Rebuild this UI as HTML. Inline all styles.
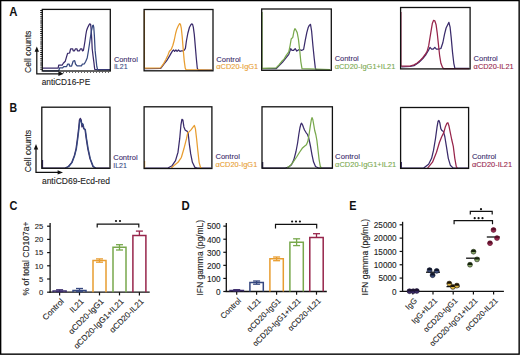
<!DOCTYPE html>
<html><head><meta charset="utf-8"><style>
html,body{margin:0;padding:0;background:#fff;}
svg{display:block;font-family:"Liberation Sans", sans-serif;}
</style></head><body>
<svg width="520" height="355" viewBox="0 0 520 355">
<rect width="520" height="355" fill="#fff"/>
<line x1="41.2" y1="10" x2="41.2" y2="71" stroke="#111" stroke-width="2.0" stroke-dasharray="0.9,1.2"/>
<polyline points="42.8,68.0 58.2,68.0 58.7,65.2 62.1,65.2 63.3,63.2 65.3,61.2 66.6,56.7 67.6,53.4 69.6,53.0 70.6,48.8 72.6,48.8 73.2,50.8 74.5,50.8 75.5,48.8 76.9,48.8 77.5,50.8 79.5,50.8 80.5,48.8 81.8,48.8 82.4,50.8 83.4,50.4 84.2,46.0 85.0,41.0 85.8,35.0 86.6,30.5 87.6,27.7 88.9,25.1 89.7,23.9 90.6,24.3 91.0,27.7 91.4,33.6 91.8,40.3 92.2,48.8 93.0,55.5 93.9,62.3 94.7,69.3 110.0,69.5" fill="none" stroke="#3a2b6b" stroke-width="1.25" stroke-linejoin="round"/>
<polyline points="42.8,70.9 58.7,70.9 59.7,67.8 62.7,67.8 63.7,66.6 66.6,66.6 67.6,64.2 69.2,64.2 69.6,66.0 71.6,66.0 73.2,61.0 74.7,60.7 75.5,64.0 77.1,65.8 81.4,65.8 82.4,64.2 84.4,63.8 85.8,61.2 87.2,58.0 88.4,51.0 89.6,43.0 90.6,36.0 91.6,30.0 92.6,25.8 93.3,25.1 93.8,27.7 94.4,36.1 95.1,50.4 96.0,58.9 96.8,66.5 97.7,69.9 110.0,70.0" fill="none" stroke="#36487f" stroke-width="1.25" stroke-linejoin="round"/>
<line x1="60" y1="72.4" x2="110" y2="72.4" stroke="#444" stroke-width="1.0" stroke-dasharray="0.9,2.1"/>
<polyline points="145.0,68.6 160.7,68.4 163.7,64.4 166.7,60.7 169.6,55.9 171.6,52.4 172.6,50.8 173.6,50.0 174.6,51.4 175.9,50.0 177.1,51.4 178.5,50.0 179.9,51.4 181.5,50.8 183.4,50.8 184.4,50.0 185.4,48.4 186.4,41.0 187.8,33.5 189.4,27.5 190.7,25.0 191.7,23.8 192.5,24.2 193.3,27.2 194.3,34.6 195.3,46.4 196.3,58.3 197.3,68.2 198.2,70.1 212.0,70.2" fill="none" stroke="#3a2b6b" stroke-width="1.25" stroke-linejoin="round"/>
<polyline points="144.4,10.5 144.4,68.2 160.4,68.0 162.0,65.8 163.8,63.4 166.0,59.2 168.0,54.9 169.4,51.2 171.2,49.5 172.8,45.5 174.3,40.0 175.6,33.5 176.8,29.2 178.2,26.0 179.6,23.6 180.4,24.2 181.3,28.2 182.2,36.6 183.2,49.3 184.2,60.6 185.2,68.0 186.0,69.7 212.0,70.0" fill="none" stroke="#e89d30" stroke-width="1.25" stroke-linejoin="round"/>
<polyline points="262.5,68.7 276.0,68.7 279.2,65.5 282.4,62.3 285.6,58.3 288.8,54.3 290.7,48.7 292.0,50.3 293.6,50.3 295.2,48.7 296.8,51.1 299.2,49.5 301.6,50.3 303.6,49.5 305.2,40.6 306.8,32.6 308.1,27.8 309.3,25.4 310.5,24.3 311.6,31.0 312.9,45.5 314.2,58.3 315.3,67.9 316.1,69.8 330.0,69.8" fill="none" stroke="#3a2b6b" stroke-width="1.25" stroke-linejoin="round"/>
<polyline points="262.0,12.0 262.0,68.3 276.0,67.9 279.2,64.7 281.6,61.5 284.0,59.1 286.4,55.1 288.8,51.9 290.1,45.5 291.2,39.0 292.8,37.4 294.0,31.0 294.9,28.6 296.0,30.2 297.2,32.6 298.4,39.0 299.7,50.3 300.8,61.5 302.0,68.7 330.0,69.5" fill="none" stroke="#78a84c" stroke-width="1.25" stroke-linejoin="round"/>
<polyline points="401.5,67.0 410.0,66.5 414.0,65.7 418.8,62.5 422.8,58.5 426.0,54.5 428.4,50.5 430.0,47.3 431.6,49.2 433.2,49.2 434.8,47.3 436.4,49.2 438.8,49.2 440.9,48.5 442.9,42.5 444.5,34.4 446.1,28.0 447.7,24.8 448.9,22.4 450.1,27.2 451.2,37.6 452.5,52.1 453.8,63.3 454.9,68.3 469.0,68.3" fill="none" stroke="#3a2b6b" stroke-width="1.25" stroke-linejoin="round"/>
<polyline points="400.9,12.0 400.9,66.0 410.0,66.0 414.0,64.9 417.2,63.0 420.4,60.1 422.8,57.7 425.2,54.5 427.1,51.3 428.7,45.7 430.0,37.6 431.3,29.6 432.4,23.2 433.6,20.3 434.8,20.8 436.1,24.8 437.2,32.8 438.4,44.1 439.6,55.3 440.9,63.3 442.5,67.3 443.5,68.5 469.0,68.5" fill="none" stroke="#97254b" stroke-width="1.25" stroke-linejoin="round"/>
<polyline points="42.5,160.0 42.5,167.8 65.1,168.0 68.4,166.5 71.8,162.3 74.3,155.6 76.0,148.8 77.4,138.7 78.6,128.6 79.4,120.1 80.3,118.4 81.3,120.1 81.9,126.9 82.6,124.0 83.6,128.6 85.0,129.4 86.2,138.7 87.8,148.8 90.0,158.9 92.9,166.5 95.4,168.0 109.0,168.0" fill="none" stroke="#3a2b6b" stroke-width="1.25" stroke-linejoin="round"/>
<polyline points="65.5,168.0 68.8,166.5 72.2,162.3 74.7,155.6 76.4,148.8 77.8,138.7 79.0,128.6 79.8,121.0 80.6,120.0 81.3,122.0 81.9,125.0 82.5,123.5 83.2,124.5 84.0,128.6 85.4,129.8 86.6,138.7 88.2,148.8 90.4,158.9 93.3,166.5 95.8,168.0" fill="none" stroke="#36487f" stroke-width="1.25" stroke-linejoin="round"/>
<polyline points="145.0,168.0 167.9,168.0 172.1,165.7 175.5,160.6 178.0,152.2 179.7,138.7 180.9,125.2 181.9,119.3 182.9,120.1 183.9,126.9 185.3,130.3 187.0,131.1 188.2,133.6 189.3,143.8 190.7,153.9 192.4,162.3 194.9,167.4 197.4,168.0 211.0,168.0" fill="none" stroke="#3a2b6b" stroke-width="1.25" stroke-linejoin="round"/>
<polyline points="171.3,168.0 174.7,164.9 178.0,162.3 181.4,157.3 183.9,148.8 186.5,138.7 187.7,132.8 189.0,131.9 191.0,129.9 193.2,126.9 194.4,125.5 195.4,128.6 196.6,138.7 197.8,150.5 199.1,162.3 200.5,167.4 201.7,168.0" fill="none" stroke="#e89d30" stroke-width="1.25" stroke-linejoin="round"/>
<polyline points="144.7,161.0 144.7,168.0" fill="none" stroke="#e89d30" stroke-width="1.0" stroke-linejoin="round"/>
<polyline points="262.7,162.0 262.7,168.0" fill="none" stroke="#333" stroke-width="1.0" stroke-linejoin="round"/>
<polyline points="262.5,162.0 262.5,168.0 285.3,168.0 289.0,166.8 291.5,164.8 293.8,159.8 296.0,151.5 297.6,143.0 298.8,134.5 299.9,128.0 300.8,124.3 301.5,123.2 302.5,124.8 303.5,127.5 304.5,130.0 305.9,132.3 307.5,134.5 308.6,137.5 309.6,142.0 310.6,146.8 312.0,154.8 313.5,161.8 315.5,166.5 318.5,168.0 332.0,168.0" fill="none" stroke="#3a2b6b" stroke-width="1.25" stroke-linejoin="round"/>
<polyline points="287.0,168.0 290.0,165.8 292.6,162.8 296.6,157.0 299.4,152.5 302.2,148.3 304.5,146.2 306.4,144.8 307.8,141.5 309.0,135.0 310.3,126.0 311.3,120.0 312.0,117.6 312.8,119.5 313.7,124.5 314.7,130.5 315.8,134.5 316.9,140.5 318.0,150.0 319.1,159.5 320.3,166.3 321.5,168.2" fill="none" stroke="#78a84c" stroke-width="1.25" stroke-linejoin="round"/>
<polyline points="401.3,162.0 401.3,168.0 423.7,168.1 428.6,164.2 431.6,158.3 433.5,150.4 435.5,138.5 437.1,126.7 438.1,121.2 438.9,120.4 439.8,122.7 440.8,128.7 442.0,130.6 443.4,131.6 444.8,136.5 446.4,146.4 448.3,158.3 450.3,165.2 453.3,168.1 468.0,168.0" fill="none" stroke="#3a2b6b" stroke-width="1.25" stroke-linejoin="round"/>
<polyline points="427.6,168.1 432.5,162.2 436.5,152.3 439.4,142.5 441.8,136.5 443.8,132.6 445.4,126.7 446.9,123.3 447.9,122.7 448.9,125.7 450.3,132.6 451.7,139.5 453.3,146.4 454.8,158.3 456.2,166.2 457.2,168.1" fill="none" stroke="#97254b" stroke-width="1.25" stroke-linejoin="round"/>
<rect x="42.3" y="9.4" width="68.0" height="61.6" fill="none" stroke="#111" stroke-width="1.3"/>
<rect x="144.1" y="9.5" width="68.9" height="61.3" fill="none" stroke="#111" stroke-width="1.3"/>
<rect x="261.7" y="9.0" width="69.6" height="61.3" fill="none" stroke="#111" stroke-width="1.3"/>
<rect x="400.6" y="7.5" width="69.5" height="61.4" fill="none" stroke="#111" stroke-width="1.3"/>
<rect x="41.8" y="107.2" width="68.2" height="61.1" fill="none" stroke="#111" stroke-width="1.3"/>
<rect x="144.1" y="106.8" width="67.8" height="61.7" fill="none" stroke="#111" stroke-width="1.3"/>
<rect x="262.0" y="106.8" width="70.4" height="61.4" fill="none" stroke="#111" stroke-width="1.3"/>
<rect x="400.6" y="107.5" width="68.0" height="60.9" fill="none" stroke="#111" stroke-width="1.3"/>
<polyline points="36.8,50.4 36.8,73.8 59.8,73.8" fill="none" stroke="#111" stroke-width="1.25"/>
<polygon points="34.599999999999994,51.8 36.8,46.4 39.0,51.8" fill="#111"/>
<polygon points="58.4,71.6 63.8,73.8 58.4,76.0" fill="#111"/>
<polyline points="36.0,148.1 36.0,172.4 59.0,172.4" fill="none" stroke="#111" stroke-width="1.25"/>
<polygon points="33.8,149.5 36.0,144.1 38.2,149.5" fill="#111"/>
<polygon points="57.6,170.20000000000002 63.0,172.4 57.6,174.6" fill="#111"/>
<text transform="translate(31.0,72.9) rotate(-90)" font-size="8.5" fill="#222" stroke="#222" stroke-width="0.1" textLength="42.3" lengthAdjust="spacingAndGlyphs">Cell counts</text>
<text transform="translate(30.8,172.2) rotate(-90)" font-size="8.5" fill="#222" stroke="#222" stroke-width="0.1" textLength="42.3" lengthAdjust="spacingAndGlyphs">Cell counts</text>
<text x="41.7" y="84.9" font-size="8.3" fill="#222" stroke="#222" stroke-width="0.1" textLength="48.5" lengthAdjust="spacingAndGlyphs">antiCD16-PE</text>
<text x="41.9" y="183.5" font-size="8.5" fill="#222" stroke="#222" stroke-width="0.1" textLength="68.2" lengthAdjust="spacingAndGlyphs">antiCD69-Ecd-red</text>
<text x="113.9" y="61.5" font-size="7.8" fill="#3a2b6b" stroke="#3a2b6b" stroke-width="0.1" textLength="23.9" lengthAdjust="spacingAndGlyphs">Control</text>
<text x="113.9" y="69.1" font-size="7.8" fill="#36487f" stroke="#36487f" stroke-width="0.1" textLength="13.7" lengthAdjust="spacingAndGlyphs">IL21</text>
<text x="216.3" y="61.6" font-size="7.8" fill="#3a2b6b" stroke="#3a2b6b" stroke-width="0.1" textLength="24.5" lengthAdjust="spacingAndGlyphs">Control</text>
<text x="216.3" y="69.2" font-size="7.8" fill="#e89d30" stroke="#e89d30" stroke-width="0.1" textLength="41.9" lengthAdjust="spacingAndGlyphs">αCD20-IgG1</text>
<text x="334.7" y="61.4" font-size="7.8" fill="#3a2b6b" stroke="#3a2b6b" stroke-width="0.1" textLength="24.0" lengthAdjust="spacingAndGlyphs">Control</text>
<text x="334.7" y="69.0" font-size="7.8" fill="#78a84c" stroke="#78a84c" stroke-width="0.1" textLength="60.6" lengthAdjust="spacingAndGlyphs">αCD20-IgG1+IL21</text>
<text x="473.6" y="60.9" font-size="7.8" fill="#3a2b6b" stroke="#3a2b6b" stroke-width="0.1" textLength="24.2" lengthAdjust="spacingAndGlyphs">Control</text>
<text x="473.6" y="68.5" font-size="7.8" fill="#97254b" stroke="#97254b" stroke-width="0.1" textLength="40.1" lengthAdjust="spacingAndGlyphs">αCD20-IL21</text>
<text x="113.2" y="160.1" font-size="7.8" fill="#3a2b6b" stroke="#3a2b6b" stroke-width="0.1" textLength="24.4" lengthAdjust="spacingAndGlyphs">Control</text>
<text x="113.2" y="167.7" font-size="7.8" fill="#36487f" stroke="#36487f" stroke-width="0.1" textLength="13.7" lengthAdjust="spacingAndGlyphs">IL21</text>
<text x="215.4" y="159.2" font-size="7.8" fill="#3a2b6b" stroke="#3a2b6b" stroke-width="0.1" textLength="24.5" lengthAdjust="spacingAndGlyphs">Control</text>
<text x="215.4" y="166.8" font-size="7.8" fill="#e89d30" stroke="#e89d30" stroke-width="0.1" textLength="41.9" lengthAdjust="spacingAndGlyphs">αCD20-IgG1</text>
<text x="335.1" y="159.1" font-size="7.8" fill="#3a2b6b" stroke="#3a2b6b" stroke-width="0.1" textLength="24.8" lengthAdjust="spacingAndGlyphs">Control</text>
<text x="335.1" y="166.7" font-size="7.8" fill="#78a84c" stroke="#78a84c" stroke-width="0.1" textLength="61.2" lengthAdjust="spacingAndGlyphs">αCD20-IgG1+IL21</text>
<text x="471.9" y="159.4" font-size="7.8" fill="#3a2b6b" stroke="#3a2b6b" stroke-width="0.1" textLength="24.4" lengthAdjust="spacingAndGlyphs">Control</text>
<text x="471.9" y="167.0" font-size="7.8" fill="#97254b" stroke="#97254b" stroke-width="0.1" textLength="40.2" lengthAdjust="spacingAndGlyphs">αCD20-IL21</text>
<line x1="50.1" y1="223.0" x2="50.1" y2="292.8" stroke="#111" stroke-width="1.3"/>
<line x1="49.5" y1="292.2" x2="149.7" y2="292.2" stroke="#111" stroke-width="1.3"/>
<line x1="47.1" y1="292.2" x2="50.1" y2="292.2" stroke="#111" stroke-width="1.2"/>
<text x="43.3" y="294.9" font-size="7.6" fill="#222" stroke="#222" stroke-width="0.1" text-anchor="end">0</text>
<line x1="47.1" y1="279.0" x2="50.1" y2="279.0" stroke="#111" stroke-width="1.2"/>
<text x="43.3" y="281.7" font-size="7.6" fill="#222" stroke="#222" stroke-width="0.1" text-anchor="end">5</text>
<line x1="47.1" y1="265.8" x2="50.1" y2="265.8" stroke="#111" stroke-width="1.2"/>
<text x="43.3" y="268.5" font-size="7.6" fill="#222" stroke="#222" stroke-width="0.1" text-anchor="end">10</text>
<line x1="47.1" y1="252.6" x2="50.1" y2="252.6" stroke="#111" stroke-width="1.2"/>
<text x="43.3" y="255.3" font-size="7.6" fill="#222" stroke="#222" stroke-width="0.1" text-anchor="end">15</text>
<line x1="47.1" y1="239.39999999999998" x2="50.1" y2="239.39999999999998" stroke="#111" stroke-width="1.2"/>
<text x="43.3" y="242.1" font-size="7.6" fill="#222" stroke="#222" stroke-width="0.1" text-anchor="end">20</text>
<line x1="47.1" y1="226.2" x2="50.1" y2="226.2" stroke="#111" stroke-width="1.2"/>
<text x="43.3" y="228.9" font-size="7.6" fill="#222" stroke="#222" stroke-width="0.1" text-anchor="end">25</text>
<line x1="59.6" y1="292.2" x2="59.6" y2="295.4" stroke="#111" stroke-width="1.2"/>
<line x1="79.5" y1="292.2" x2="79.5" y2="295.4" stroke="#111" stroke-width="1.2"/>
<line x1="99.5" y1="292.2" x2="99.5" y2="295.4" stroke="#111" stroke-width="1.2"/>
<line x1="119.5" y1="292.2" x2="119.5" y2="295.4" stroke="#111" stroke-width="1.2"/>
<line x1="139.4" y1="292.2" x2="139.4" y2="295.4" stroke="#111" stroke-width="1.2"/>
<text transform="translate(64.4,302.0) rotate(-45)" font-size="8.2" fill="#222" stroke="#222" stroke-width="0.1" text-anchor="end">Control</text>
<text transform="translate(84.3,302.0) rotate(-45)" font-size="8.2" fill="#222" stroke="#222" stroke-width="0.1" text-anchor="end">IL21</text>
<text transform="translate(104.3,302.0) rotate(-45)" font-size="8.2" fill="#222" stroke="#222" stroke-width="0.1" text-anchor="end">αCD20-IgG1</text>
<text transform="translate(124.3,302.0) rotate(-45)" font-size="8.2" fill="#222" stroke="#222" stroke-width="0.1" text-anchor="end">αCD20-IgG1+IL21</text>
<text transform="translate(144.2,302.0) rotate(-45)" font-size="8.2" fill="#222" stroke="#222" stroke-width="0.1" text-anchor="end">αCD20-IL21</text>
<text transform="translate(28.9,295.5) rotate(-90)" font-size="8.4" fill="#222" stroke="#222" stroke-width="0.1" textLength="74.0" lengthAdjust="spacingAndGlyphs">% of total CD107a+</text>
<polyline points="53.1,292.2 53.1,290.9 66.1,290.9 66.1,292.2" fill="none" stroke="#3a2b6b" stroke-width="1.5"/>
<line x1="59.6" y1="291.7" x2="59.6" y2="289.8" stroke="#3a2b6b" stroke-width="1.3"/>
<line x1="56.1" y1="289.8" x2="63.1" y2="289.8" stroke="#3a2b6b" stroke-width="1.3"/>
<line x1="56.1" y1="291.7" x2="63.1" y2="291.7" stroke="#3a2b6b" stroke-width="1.3"/>
<polyline points="73.0,292.2 73.0,290.4 86.0,290.4 86.0,292.2" fill="none" stroke="#36487f" stroke-width="1.5"/>
<line x1="79.5" y1="291.7" x2="79.5" y2="288.5" stroke="#36487f" stroke-width="1.3"/>
<line x1="76.0" y1="288.5" x2="83.0" y2="288.5" stroke="#36487f" stroke-width="1.3"/>
<line x1="76.0" y1="291.7" x2="83.0" y2="291.7" stroke="#36487f" stroke-width="1.3"/>
<polyline points="93.0,292.2 93.0,260.5 106.0,260.5 106.0,292.2" fill="none" stroke="#e89d30" stroke-width="1.5"/>
<line x1="99.5" y1="262.2" x2="99.5" y2="258.9" stroke="#e89d30" stroke-width="1.3"/>
<line x1="96.0" y1="258.9" x2="103.0" y2="258.9" stroke="#e89d30" stroke-width="1.3"/>
<line x1="96.0" y1="262.2" x2="103.0" y2="262.2" stroke="#e89d30" stroke-width="1.3"/>
<polyline points="113.0,292.2 113.0,247.3 126.0,247.3 126.0,292.2" fill="none" stroke="#78a84c" stroke-width="1.5"/>
<line x1="119.5" y1="250.0" x2="119.5" y2="244.7" stroke="#78a84c" stroke-width="1.3"/>
<line x1="116.0" y1="244.7" x2="123.0" y2="244.7" stroke="#78a84c" stroke-width="1.3"/>
<line x1="116.0" y1="250.0" x2="123.0" y2="250.0" stroke="#78a84c" stroke-width="1.3"/>
<polyline points="132.9,292.2 132.9,235.4 145.9,235.4 145.9,292.2" fill="none" stroke="#97254b" stroke-width="1.5"/>
<line x1="139.4" y1="235.4" x2="139.4" y2="231.1" stroke="#97254b" stroke-width="1.3"/>
<line x1="135.9" y1="231.1" x2="142.9" y2="231.1" stroke="#97254b" stroke-width="1.3"/>
<polyline points="97.2,227.5 97.2,224.1 138.8,224.1 138.8,227.5" fill="none" stroke="#111" stroke-width="1.2"/>
<circle cx="116.0" cy="221.0" r="1.1" fill="#111"/>
<circle cx="120.0" cy="221.0" r="1.1" fill="#111"/>
<line x1="226.3" y1="223.0" x2="226.3" y2="292.1" stroke="#111" stroke-width="1.3"/>
<line x1="225.70000000000002" y1="291.5" x2="326.8" y2="291.5" stroke="#111" stroke-width="1.3"/>
<line x1="223.3" y1="291.5" x2="226.3" y2="291.5" stroke="#111" stroke-width="1.2"/>
<text x="220.6" y="294.8" font-size="8.2" fill="#222" stroke="#222" stroke-width="0.1" text-anchor="end">0</text>
<line x1="223.3" y1="278.43" x2="226.3" y2="278.43" stroke="#111" stroke-width="1.2"/>
<text x="220.6" y="281.7" font-size="8.2" fill="#222" stroke="#222" stroke-width="0.1" text-anchor="end">100</text>
<line x1="223.3" y1="265.36" x2="226.3" y2="265.36" stroke="#111" stroke-width="1.2"/>
<text x="220.6" y="268.7" font-size="8.2" fill="#222" stroke="#222" stroke-width="0.1" text-anchor="end">200</text>
<line x1="223.3" y1="252.29" x2="226.3" y2="252.29" stroke="#111" stroke-width="1.2"/>
<text x="220.6" y="255.6" font-size="8.2" fill="#222" stroke="#222" stroke-width="0.1" text-anchor="end">300</text>
<line x1="223.3" y1="239.22" x2="226.3" y2="239.22" stroke="#111" stroke-width="1.2"/>
<text x="220.6" y="242.5" font-size="8.2" fill="#222" stroke="#222" stroke-width="0.1" text-anchor="end">400</text>
<line x1="223.3" y1="226.14999999999998" x2="226.3" y2="226.14999999999998" stroke="#111" stroke-width="1.2"/>
<text x="220.6" y="229.4" font-size="8.2" fill="#222" stroke="#222" stroke-width="0.1" text-anchor="end">500</text>
<line x1="236.7" y1="291.5" x2="236.7" y2="294.7" stroke="#111" stroke-width="1.2"/>
<line x1="256.6" y1="291.5" x2="256.6" y2="294.7" stroke="#111" stroke-width="1.2"/>
<line x1="276.6" y1="291.5" x2="276.6" y2="294.7" stroke="#111" stroke-width="1.2"/>
<line x1="296.6" y1="291.5" x2="296.6" y2="294.7" stroke="#111" stroke-width="1.2"/>
<line x1="316.5" y1="291.5" x2="316.5" y2="294.7" stroke="#111" stroke-width="1.2"/>
<text transform="translate(241.5,301.3) rotate(-45)" font-size="7.9" fill="#222" stroke="#222" stroke-width="0.1" text-anchor="end">Control</text>
<text transform="translate(261.4,301.3) rotate(-45)" font-size="7.9" fill="#222" stroke="#222" stroke-width="0.1" text-anchor="end">IL21</text>
<text transform="translate(281.4,301.3) rotate(-45)" font-size="7.9" fill="#222" stroke="#222" stroke-width="0.1" text-anchor="end">αCD20-IgG1</text>
<text transform="translate(301.4,301.3) rotate(-45)" font-size="7.9" fill="#222" stroke="#222" stroke-width="0.1" text-anchor="end">αCD20-IgG1+IL21</text>
<text transform="translate(321.3,301.3) rotate(-45)" font-size="7.9" fill="#222" stroke="#222" stroke-width="0.1" text-anchor="end">αCD20-IL21</text>
<text transform="translate(203.0,295.5) rotate(-90)" font-size="8.4" fill="#222" stroke="#222" stroke-width="0.1" textLength="75.5" lengthAdjust="spacingAndGlyphs">IFN gamma (pg/mL)</text>
<polyline points="230.0,291.5 230.0,290.5 243.4,290.5 243.4,291.5" fill="none" stroke="#3a2b6b" stroke-width="1.5"/>
<line x1="236.7" y1="291.0" x2="236.7" y2="289.7" stroke="#3a2b6b" stroke-width="1.3"/>
<line x1="233.2" y1="289.7" x2="240.2" y2="289.7" stroke="#3a2b6b" stroke-width="1.3"/>
<line x1="233.2" y1="291.0" x2="240.2" y2="291.0" stroke="#3a2b6b" stroke-width="1.3"/>
<polyline points="249.9,291.5 249.9,282.6 263.3,282.6 263.3,291.5" fill="none" stroke="#36487f" stroke-width="1.5"/>
<line x1="256.6" y1="284.2" x2="256.6" y2="281.0" stroke="#36487f" stroke-width="1.3"/>
<line x1="253.10000000000002" y1="281.0" x2="260.1" y2="281.0" stroke="#36487f" stroke-width="1.3"/>
<line x1="253.10000000000002" y1="284.2" x2="260.1" y2="284.2" stroke="#36487f" stroke-width="1.3"/>
<polyline points="269.9,291.5 269.9,258.8 283.3,258.8 283.3,291.5" fill="none" stroke="#e89d30" stroke-width="1.5"/>
<line x1="276.6" y1="260.7" x2="276.6" y2="257.0" stroke="#e89d30" stroke-width="1.3"/>
<line x1="273.1" y1="257.0" x2="280.1" y2="257.0" stroke="#e89d30" stroke-width="1.3"/>
<line x1="273.1" y1="260.7" x2="280.1" y2="260.7" stroke="#e89d30" stroke-width="1.3"/>
<polyline points="289.9,291.5 289.9,242.2 303.3,242.2 303.3,291.5" fill="none" stroke="#78a84c" stroke-width="1.5"/>
<line x1="296.6" y1="245.6" x2="296.6" y2="238.8" stroke="#78a84c" stroke-width="1.3"/>
<line x1="293.1" y1="238.8" x2="300.1" y2="238.8" stroke="#78a84c" stroke-width="1.3"/>
<line x1="293.1" y1="245.6" x2="300.1" y2="245.6" stroke="#78a84c" stroke-width="1.3"/>
<polyline points="309.8,291.5 309.8,237.4 323.2,237.4 323.2,291.5" fill="none" stroke="#97254b" stroke-width="1.5"/>
<line x1="316.5" y1="237.4" x2="316.5" y2="233.7" stroke="#97254b" stroke-width="1.3"/>
<line x1="313.0" y1="233.7" x2="320.0" y2="233.7" stroke="#97254b" stroke-width="1.3"/>
<polyline points="275.5,228.4 275.5,224.4 316.7,224.4 316.7,228.4" fill="none" stroke="#111" stroke-width="1.2"/>
<circle cx="292.1" cy="221.5" r="1.1" fill="#111"/>
<circle cx="296.0" cy="221.5" r="1.1" fill="#111"/>
<circle cx="299.9" cy="221.5" r="1.1" fill="#111"/>
<line x1="402.6" y1="221.8" x2="402.6" y2="292.0" stroke="#111" stroke-width="1.3"/>
<line x1="402.0" y1="291.4" x2="503.9" y2="291.4" stroke="#111" stroke-width="1.3"/>
<line x1="399.6" y1="291.4" x2="402.6" y2="291.4" stroke="#111" stroke-width="1.2"/>
<text x="396.6" y="294.7" font-size="8.2" fill="#222" stroke="#222" stroke-width="0.1" text-anchor="end">0</text>
<line x1="399.6" y1="278.08" x2="402.6" y2="278.08" stroke="#111" stroke-width="1.2"/>
<text x="396.6" y="281.4" font-size="8.2" fill="#222" stroke="#222" stroke-width="0.1" text-anchor="end">5000</text>
<line x1="399.6" y1="264.76" x2="402.6" y2="264.76" stroke="#111" stroke-width="1.2"/>
<text x="396.6" y="268.1" font-size="8.2" fill="#222" stroke="#222" stroke-width="0.1" text-anchor="end">10000</text>
<line x1="399.6" y1="251.43999999999997" x2="402.6" y2="251.43999999999997" stroke="#111" stroke-width="1.2"/>
<text x="396.6" y="254.7" font-size="8.2" fill="#222" stroke="#222" stroke-width="0.1" text-anchor="end">15000</text>
<line x1="399.6" y1="238.11999999999998" x2="402.6" y2="238.11999999999998" stroke="#111" stroke-width="1.2"/>
<text x="396.6" y="241.4" font-size="8.2" fill="#222" stroke="#222" stroke-width="0.1" text-anchor="end">20000</text>
<line x1="399.6" y1="224.79999999999995" x2="402.6" y2="224.79999999999995" stroke="#111" stroke-width="1.2"/>
<text x="396.6" y="228.1" font-size="8.2" fill="#222" stroke="#222" stroke-width="0.1" text-anchor="end">25000</text>
<line x1="412.8" y1="291.4" x2="412.8" y2="294.59999999999997" stroke="#111" stroke-width="1.2"/>
<line x1="433.0" y1="291.4" x2="433.0" y2="294.59999999999997" stroke="#111" stroke-width="1.2"/>
<line x1="453.2" y1="291.4" x2="453.2" y2="294.59999999999997" stroke="#111" stroke-width="1.2"/>
<line x1="473.4" y1="291.4" x2="473.4" y2="294.59999999999997" stroke="#111" stroke-width="1.2"/>
<line x1="493.6" y1="291.4" x2="493.6" y2="294.59999999999997" stroke="#111" stroke-width="1.2"/>
<text transform="translate(417.6,301.2) rotate(-45)" font-size="7.9" fill="#222" stroke="#222" stroke-width="0.1" text-anchor="end">IgG</text>
<text transform="translate(437.8,301.2) rotate(-45)" font-size="7.9" fill="#222" stroke="#222" stroke-width="0.1" text-anchor="end">IgG+IL21</text>
<text transform="translate(458.0,301.2) rotate(-45)" font-size="7.9" fill="#222" stroke="#222" stroke-width="0.1" text-anchor="end">αCD20-IgG1</text>
<text transform="translate(478.2,301.2) rotate(-45)" font-size="7.9" fill="#222" stroke="#222" stroke-width="0.1" text-anchor="end">αCD20-IgG1+IL21</text>
<text transform="translate(498.4,301.2) rotate(-45)" font-size="7.9" fill="#222" stroke="#222" stroke-width="0.1" text-anchor="end">αCD20-IL21</text>
<text transform="translate(368.2,295.5) rotate(-90)" font-size="8.4" fill="#222" stroke="#222" stroke-width="0.1" textLength="76.5" lengthAdjust="spacingAndGlyphs">IFN gamma (pg/mL)</text>
<circle cx="409.5" cy="291.2" r="2.45" fill="#3a2b6b" stroke="#1e1430" stroke-width="0.6"/>
<path d="M407.05,291.40 A2.45,2.45 0 0 1 411.95,291.40 Z" fill="#1e1430"/>
<circle cx="413.2" cy="291.2" r="2.45" fill="#3a2b6b" stroke="#1e1430" stroke-width="0.6"/>
<path d="M410.75,291.40 A2.45,2.45 0 0 1 415.65,291.40 Z" fill="#1e1430"/>
<circle cx="416.8" cy="291.0" r="2.45" fill="#3a2b6b" stroke="#1e1430" stroke-width="0.6"/>
<path d="M414.35,291.20 A2.45,2.45 0 0 1 419.25,291.20 Z" fill="#1e1430"/>
<line x1="426.0" y1="272.2" x2="440.0" y2="272.2" stroke="#111" stroke-width="1.3"/>
<circle cx="429.6" cy="270.1" r="2.45" fill="#3a4a7a" stroke="#101528" stroke-width="0.6"/>
<path d="M427.15,270.30 A2.45,2.45 0 0 1 432.05,270.30 Z" fill="#101528"/>
<circle cx="436.7" cy="270.9" r="2.45" fill="#3a4a7a" stroke="#101528" stroke-width="0.6"/>
<path d="M434.25,271.10 A2.45,2.45 0 0 1 439.15,271.10 Z" fill="#101528"/>
<circle cx="432.6" cy="275.2" r="2.45" fill="#3a4a7a" stroke="#101528" stroke-width="0.6"/>
<path d="M430.15,275.40 A2.45,2.45 0 0 1 435.05,275.40 Z" fill="#101528"/>
<line x1="446.5" y1="286.6" x2="459.5" y2="286.6" stroke="#111" stroke-width="1.3"/>
<circle cx="449.3" cy="283.6" r="2.45" fill="#e0b840" stroke="#1a1208" stroke-width="0.6"/>
<path d="M446.85,283.80 A2.45,2.45 0 0 1 451.75,283.80 Z" fill="#1a1208"/>
<circle cx="452.9" cy="286.9" r="2.45" fill="#e0b840" stroke="#1a1208" stroke-width="0.6"/>
<path d="M450.45,287.10 A2.45,2.45 0 0 1 455.35,287.10 Z" fill="#1a1208"/>
<circle cx="456.9" cy="285.6" r="2.45" fill="#e0b840" stroke="#1a1208" stroke-width="0.6"/>
<path d="M454.45,285.80 A2.45,2.45 0 0 1 459.35,285.80 Z" fill="#1a1208"/>
<line x1="466.1" y1="258.2" x2="479.5" y2="258.2" stroke="#111" stroke-width="1.3"/>
<circle cx="473.5" cy="251.7" r="2.45" fill="#8aa86a" stroke="#15220c" stroke-width="0.6"/>
<path d="M471.05,251.90 A2.45,2.45 0 0 1 475.95,251.90 Z" fill="#15220c"/>
<circle cx="477.0" cy="259.4" r="2.45" fill="#8aa86a" stroke="#15220c" stroke-width="0.6"/>
<path d="M474.55,259.60 A2.45,2.45 0 0 1 479.45,259.60 Z" fill="#15220c"/>
<circle cx="470.0" cy="264.7" r="2.45" fill="#8aa86a" stroke="#15220c" stroke-width="0.6"/>
<path d="M467.55,264.90 A2.45,2.45 0 0 1 472.45,264.90 Z" fill="#15220c"/>
<line x1="486.8" y1="237.0" x2="499.8" y2="237.0" stroke="#111" stroke-width="1.3"/>
<circle cx="493.5" cy="230.0" r="2.45" fill="#9a2a50" stroke="#5a0f28" stroke-width="0.6"/>
<path d="M491.05,230.20 A2.45,2.45 0 0 1 495.95,230.20 Z" fill="#5a0f28"/>
<circle cx="497.0" cy="238.1" r="2.45" fill="#9a2a50" stroke="#5a0f28" stroke-width="0.6"/>
<path d="M494.55,238.30 A2.45,2.45 0 0 1 499.45,238.30 Z" fill="#5a0f28"/>
<circle cx="490.0" cy="243.2" r="2.45" fill="#9a2a50" stroke="#5a0f28" stroke-width="0.6"/>
<path d="M487.55,243.40 A2.45,2.45 0 0 1 492.45,243.40 Z" fill="#5a0f28"/>
<polyline points="470.3,214.5 470.3,211.4 492.2,211.4 492.2,214.5" fill="none" stroke="#111" stroke-width="1.2"/>
<circle cx="481.0" cy="209.2" r="1.1" fill="#111"/>
<polyline points="454.1,224.2 454.1,220.6 492.5,220.6 492.5,224.2" fill="none" stroke="#111" stroke-width="1.2"/>
<circle cx="474.7" cy="218.2" r="1.1" fill="#111"/>
<circle cx="478.6" cy="218.2" r="1.1" fill="#111"/>
<circle cx="482.5" cy="218.2" r="1.1" fill="#111"/>
<text x="9.2" y="15.8" font-size="12.2" font-weight="bold" fill="#111" textLength="8.2" lengthAdjust="spacingAndGlyphs">A</text>
<text x="9.5" y="111.6" font-size="12.2" font-weight="bold" fill="#111" textLength="7.6" lengthAdjust="spacingAndGlyphs">B</text>
<text x="9.5" y="209.5" font-size="12.2" font-weight="bold" fill="#111" textLength="7.9" lengthAdjust="spacingAndGlyphs">C</text>
<text x="181.6" y="209.9" font-size="12.2" font-weight="bold" fill="#111" textLength="8.2" lengthAdjust="spacingAndGlyphs">D</text>
<text x="349.2" y="209.9" font-size="12.2" font-weight="bold" fill="#111" textLength="7.2" lengthAdjust="spacingAndGlyphs">E</text>
<rect x="0.65" y="0.55" width="518.5" height="353.6" fill="none" stroke="#000" stroke-width="1.4"/>
</svg>
</body></html>
